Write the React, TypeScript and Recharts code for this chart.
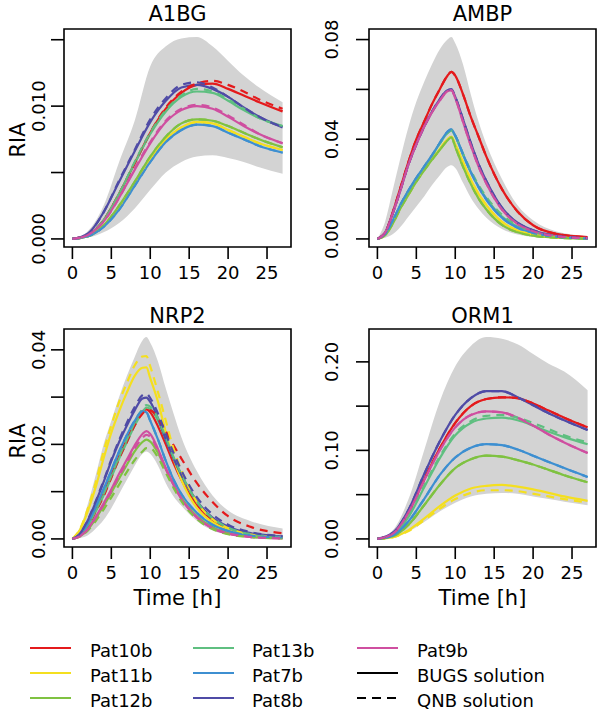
import { Area, ComposedChart, Line, ReferenceArea, XAxis, YAxis } from "recharts";

const FONT = "'DejaVu Sans', Verdana, sans-serif";

const patients = ["Pat10b", "Pat11b", "Pat12b", "Pat13b", "Pat7b", "Pat8b", "Pat9b"];
const patientColors = ["#E41A1C", "#F4DF1F", "#7FC241", "#5FBF80", "#3D8FD1", "#4F4BA6", "#CF4FA0"];
const hourTicks = [0, 5, 10, 15, 20, 25];

// ---- A1BG ----
const a1bgHours = [0, 2, 4, 6, 8, 10, 12, 14, 16, 18, 20, 22, 24, 27];
const a1bgLow = [0, 0.0001, 0.0005, 0.0012, 0.0023, 0.0037, 0.005, 0.0058, 0.0062, 0.0063, 0.0061, 0.0058, 0.0054, 0.0049];
const a1bgHigh = [0, 0.0006, 0.0025, 0.0058, 0.0089, 0.013, 0.0145, 0.0151, 0.0152, 0.0145, 0.0134, 0.0123, 0.0114, 0.0103];
const a1bgBugs: Record<string, number[]> = {
  Pat10b: [0, 0.0003, 0.0014, 0.0034, 0.0057, 0.008, 0.0098, 0.011, 0.0116, 0.0117, 0.0113, 0.0108, 0.0103, 0.0096],
  Pat11b: [0, 0.0002, 0.001, 0.0024, 0.0042, 0.006, 0.0075, 0.0084, 0.0088, 0.0087, 0.0082, 0.0077, 0.0072, 0.0067],
  Pat12b: [0, 0.0002, 0.001, 0.0025, 0.0043, 0.0062, 0.0077, 0.0087, 0.009, 0.0089, 0.0085, 0.008, 0.0075, 0.0069],
  Pat13b: [0, 0.0003, 0.0014, 0.0034, 0.0057, 0.0079, 0.0096, 0.0107, 0.0111, 0.011, 0.0104, 0.0097, 0.0091, 0.0085],
  Pat7b: [0, 0.0002, 0.0009, 0.0022, 0.004, 0.0058, 0.0073, 0.0082, 0.0086, 0.0085, 0.008, 0.0075, 0.007, 0.0065],
  Pat8b: [0, 0.0004, 0.002, 0.0043, 0.0066, 0.0088, 0.0104, 0.0114, 0.0116, 0.0113, 0.0107, 0.0099, 0.0092, 0.0084],
  Pat9b: [0, 0.0003, 0.0013, 0.0031, 0.0052, 0.0072, 0.0088, 0.0097, 0.01, 0.0098, 0.0092, 0.0085, 0.0079, 0.0072],
};
const a1bgQnb: Record<string, number[]> = {
  ...a1bgBugs,
  Pat10b: [0, 0.0003, 0.0014, 0.0034, 0.0057, 0.008, 0.0099, 0.0111, 0.0117, 0.0119, 0.0116, 0.0111, 0.0105, 0.0098],
  Pat13b: [0, 0.0003, 0.0014, 0.0034, 0.0058, 0.008, 0.0097, 0.0108, 0.0113, 0.0111, 0.0105, 0.0098, 0.0091, 0.0085],
  Pat8b: [0, 0.0004, 0.002, 0.0044, 0.0067, 0.009, 0.0106, 0.0116, 0.0118, 0.0114, 0.0107, 0.0099, 0.0092, 0.0084],
  Pat9b: [0, 0.0003, 0.0013, 0.0031, 0.0053, 0.0073, 0.0089, 0.0098, 0.0101, 0.0099, 0.0093, 0.0086, 0.0079, 0.0072],
};

// ---- AMBP ----
const ambpHours = [0, 1, 2, 3, 4, 5, 6, 7, 8, 9, 9.5, 10, 11, 12, 13, 14, 16, 18, 20, 23, 27];
const ambpLow = [0, 0.0005, 0.002, 0.005, 0.009, 0.013, 0.017, 0.0215, 0.0255, 0.029, 0.0296, 0.0285, 0.0225, 0.0165, 0.012, 0.0085, 0.004, 0.0018, 0.0008, 0.0003, 0.0001];
const ambpHigh = [0, 0.007, 0.02, 0.033, 0.045, 0.055, 0.063, 0.07, 0.076, 0.08, 0.081, 0.0785, 0.07, 0.058, 0.047, 0.038, 0.024, 0.0135, 0.0075, 0.003, 0.0012];
const ambpBugs: Record<string, number[]> = {
  Pat10b: [0, 0.0025, 0.011, 0.021, 0.031, 0.04, 0.047, 0.054, 0.06, 0.0655, 0.067, 0.0655, 0.058, 0.049, 0.041, 0.033, 0.02, 0.011, 0.0055, 0.002, 0.0007],
  Pat11b: [0, 0.0016, 0.0066, 0.0128, 0.018, 0.0233, 0.0278, 0.032, 0.036, 0.04, 0.041, 0.038, 0.0308, 0.0238, 0.018, 0.0135, 0.0068, 0.0034, 0.0017, 0.0006, 0.0002],
  Pat12b: [0, 0.0015, 0.0063, 0.0125, 0.0178, 0.023, 0.0275, 0.0317, 0.0357, 0.0395, 0.0408, 0.037, 0.029, 0.022, 0.0162, 0.0118, 0.0056, 0.0027, 0.0013, 0.0005, 0.0001],
  Pat13b: [0, 0.002, 0.0075, 0.0138, 0.0193, 0.0243, 0.0288, 0.0333, 0.0382, 0.0425, 0.0436, 0.0412, 0.0338, 0.0268, 0.021, 0.0162, 0.009, 0.0049, 0.0026, 0.001, 0.0002],
  Pat7b: [0, 0.002, 0.0075, 0.014, 0.0195, 0.0245, 0.029, 0.0335, 0.0385, 0.043, 0.044, 0.0415, 0.034, 0.0268, 0.0208, 0.0158, 0.0085, 0.0045, 0.0024, 0.0009, 0.0002],
  Pat8b: [0, 0.0025, 0.0105, 0.02, 0.03, 0.038, 0.045, 0.051, 0.056, 0.0597, 0.06, 0.057, 0.048, 0.0385, 0.03, 0.0232, 0.0125, 0.0065, 0.0035, 0.0012, 0.0003],
  Pat9b: [0, 0.0025, 0.0105, 0.02, 0.03, 0.038, 0.045, 0.0508, 0.0555, 0.0593, 0.0597, 0.0565, 0.047, 0.0375, 0.029, 0.0222, 0.0118, 0.006, 0.0031, 0.0011, 0.0003],
};
const ambpQnb: Record<string, number[]> = {
  ...ambpBugs,
  Pat13b: [0, 0.002, 0.0075, 0.0138, 0.0193, 0.0243, 0.0288, 0.0333, 0.0382, 0.0425, 0.0436, 0.0414, 0.0342, 0.0274, 0.0216, 0.0168, 0.0097, 0.0054, 0.0029, 0.0011, 0.0002],
};

// ---- NRP2 ----
const nrp2Hours = [0, 1, 2, 3, 4, 5, 6, 7, 8, 9, 9.5, 10, 11, 12, 13, 14, 16, 18, 20, 23, 27];
const nrp2Low = [0, 0.0002, 0.0008, 0.0022, 0.004, 0.0065, 0.0095, 0.0125, 0.0155, 0.018, 0.0185, 0.018, 0.0155, 0.0118, 0.009, 0.007, 0.0038, 0.0018, 0.0009, 0.0003, 0.0001];
const nrp2High = [0, 0.0025, 0.0075, 0.0135, 0.02, 0.025, 0.03, 0.0345, 0.0385, 0.042, 0.0427, 0.0415, 0.0375, 0.0318, 0.0265, 0.0215, 0.0143, 0.0092, 0.006, 0.0037, 0.0022];
const nrp2Bugs: Record<string, number[]> = {
  Pat10b: [0, 0.0008, 0.003, 0.006, 0.0095, 0.0135, 0.0175, 0.021, 0.0245, 0.027, 0.0274, 0.0268, 0.0238, 0.02, 0.016, 0.0125, 0.0072, 0.004, 0.0023, 0.001, 0.0004],
  Pat11b: [0, 0.002, 0.006, 0.011, 0.017, 0.0225, 0.027, 0.031, 0.0345, 0.0362, 0.0363, 0.034, 0.029, 0.0225, 0.017, 0.0125, 0.0065, 0.0035, 0.0019, 0.0008, 0.0003],
  Pat12b: [0, 0.0006, 0.002, 0.0043, 0.007, 0.0098, 0.0128, 0.0157, 0.0185, 0.0205, 0.021, 0.0206, 0.0182, 0.0148, 0.0115, 0.0087, 0.0048, 0.0025, 0.0013, 0.0005, 0.0002],
  Pat13b: [0, 0.0008, 0.0028, 0.0058, 0.0092, 0.013, 0.017, 0.0205, 0.024, 0.0268, 0.0278, 0.0275, 0.025, 0.021, 0.017, 0.0135, 0.0078, 0.0043, 0.0024, 0.001, 0.0004],
  Pat7b: [0, 0.001, 0.0033, 0.0068, 0.0105, 0.0145, 0.0185, 0.022, 0.025, 0.027, 0.0268, 0.025, 0.021, 0.0165, 0.0125, 0.0095, 0.0055, 0.003, 0.0017, 0.0007, 0.0003],
  Pat8b: [0, 0.0012, 0.004, 0.0078, 0.012, 0.0165, 0.0205, 0.024, 0.0272, 0.0297, 0.0299, 0.029, 0.0255, 0.021, 0.017, 0.0135, 0.008, 0.0045, 0.0026, 0.0012, 0.0005],
  Pat9b: [0, 0.0006, 0.0022, 0.0047, 0.0075, 0.0105, 0.0138, 0.0168, 0.0198, 0.0222, 0.0228, 0.0222, 0.019, 0.015, 0.0115, 0.0085, 0.0045, 0.0022, 0.0011, 0.0004, 0.0001],
};
const nrp2Qnb: Record<string, number[]> = {
  ...nrp2Bugs,
  Pat10b: [0, 0.0008, 0.0028, 0.0058, 0.009, 0.013, 0.017, 0.0205, 0.024, 0.0265, 0.0272, 0.0272, 0.0255, 0.0228, 0.0198, 0.017, 0.0118, 0.0078, 0.0048, 0.0025, 0.0012],
  Pat11b: [0, 0.0022, 0.0065, 0.012, 0.0185, 0.024, 0.029, 0.033, 0.0367, 0.0386, 0.0387, 0.0365, 0.031, 0.025, 0.019, 0.0145, 0.0078, 0.0042, 0.0023, 0.0009, 0.0003],
  Pat12b: [0, 0.0005, 0.0018, 0.0038, 0.0062, 0.0088, 0.0115, 0.0142, 0.0167, 0.0185, 0.0192, 0.0192, 0.0172, 0.014, 0.0108, 0.008, 0.0042, 0.0021, 0.001, 0.0004, 0.0001],
  Pat13b: [0, 0.0008, 0.0029, 0.006, 0.0095, 0.0134, 0.0174, 0.021, 0.0246, 0.0275, 0.0283, 0.028, 0.0255, 0.0214, 0.0173, 0.0137, 0.0079, 0.0044, 0.0024, 0.001, 0.0004],
  Pat8b: [0, 0.0012, 0.0041, 0.008, 0.0123, 0.0168, 0.0209, 0.0246, 0.0279, 0.0304, 0.0307, 0.0298, 0.0265, 0.0222, 0.0182, 0.0145, 0.0088, 0.0052, 0.003, 0.0014, 0.0006],
  Pat9b: [0, 0.0006, 0.0021, 0.0045, 0.0072, 0.0101, 0.0133, 0.0162, 0.0191, 0.0214, 0.022, 0.0216, 0.0186, 0.0148, 0.0114, 0.0085, 0.0046, 0.0023, 0.0012, 0.0004, 0.0001],
};

// ---- ORM1 ----
const orm1Hours = [0, 2, 4, 6, 8, 10, 12, 14, 16, 18, 20, 22, 24, 27];
const orm1Low = [0, 0.0015, 0.008, 0.019, 0.031, 0.041, 0.048, 0.051, 0.052, 0.051, 0.048, 0.045, 0.042, 0.038];
const orm1High = [0, 0.01, 0.045, 0.1, 0.155, 0.195, 0.218, 0.228, 0.226, 0.22, 0.209, 0.198, 0.189, 0.168];
const orm1Bugs: Record<string, number[]> = {
  Pat10b: [0, 0.006, 0.03, 0.067, 0.102, 0.131, 0.15, 0.158, 0.16, 0.159, 0.153, 0.145, 0.137, 0.126],
  Pat11b: [0, 0.002, 0.01, 0.023, 0.037, 0.049, 0.057, 0.06, 0.061, 0.059, 0.056, 0.052, 0.048, 0.043],
  Pat12b: [0, 0.003, 0.016, 0.038, 0.061, 0.08, 0.09, 0.094, 0.093, 0.089, 0.084, 0.078, 0.072, 0.064],
  Pat13b: [0, 0.005, 0.025, 0.058, 0.091, 0.117, 0.131, 0.136, 0.137, 0.134, 0.128, 0.121, 0.115, 0.107],
  Pat7b: [0, 0.004, 0.02, 0.045, 0.072, 0.092, 0.103, 0.107, 0.106, 0.101, 0.094, 0.087, 0.08, 0.07],
  Pat8b: [0, 0.007, 0.033, 0.073, 0.11, 0.14, 0.159, 0.167, 0.167, 0.16, 0.151, 0.142, 0.134, 0.123],
  Pat9b: [0, 0.006, 0.03, 0.066, 0.1, 0.126, 0.14, 0.144, 0.143, 0.137, 0.128, 0.118, 0.109, 0.097],
};
const orm1Qnb: Record<string, number[]> = {
  ...orm1Bugs,
  Pat11b: [0, 0.002, 0.009, 0.021, 0.034, 0.045, 0.052, 0.055, 0.055, 0.054, 0.051, 0.048, 0.045, 0.041],
  Pat13b: [0, 0.005, 0.026, 0.06, 0.093, 0.119, 0.133, 0.139, 0.14, 0.137, 0.131, 0.124, 0.117, 0.109],
};

const X_MIN = -1.08;
const X_MAX = 28.08;
const BOX_W = 227;
const BOX_H = 218;
const BOX_TOP = 29;

interface PanelProps {
  left: number;
  top: number;
  boxLeft: number;
  labelGap: number;
  hours: number[];
  low: number[];
  high: number[];
  bugs: Record<string, number[]>;
  qnb: Record<string, number[]>;
  yTicks: number[];
  yLabeled: number[];
  digits: number;
}

function HourTick(props: any) {
  const { x, y, payload } = props;
  return (
    <text x={x} y={y} textAnchor="middle" fontFamily={FONT} fontSize={18} fill="#000">
      {payload.value}
    </text>
  );
}

function Panel({ left, top, boxLeft, labelGap, hours, low, high, bugs, qnb, yTicks, yLabeled, digits }: PanelProps) {
  const rows = hours.map((t, i) => {
    const row: Record<string, any> = { t, band: [low[i], high[i]] };
    patients.forEach((p) => {
      row[p] = bugs[p][i];
      row[p + "_qnb"] = qnb[p][i];
    });
    return row;
  });
  // R-style 4% padding around the data range
  const yMax = Math.max(...high);
  const yLo = -0.04 * yMax;
  const yHi = 1.04 * yMax;

  const ValueTick = (props: any) => {
    const { x, y, payload } = props;
    if (!yLabeled.some((v) => Math.abs(v - payload.value) < 1e-9)) return <g />;
    return (
      <text
        x={x}
        y={y}
        transform={`rotate(-90, ${x}, ${y})`}
        textAnchor="middle"
        fontFamily={FONT}
        fontSize={18}
        fill="#000"
      >
        {payload.value.toFixed(digits)}
      </text>
    );
  };

  const tickStyle = { stroke: "#000", strokeWidth: 1.6 };

  return (
    <div style={{ position: "absolute", left, top }}>
      <ComposedChart
        width={300}
        height={300}
        data={rows}
        margin={{ top: BOX_TOP, right: 300 - boxLeft - BOX_W, bottom: 300 - BOX_TOP - BOX_H - 30, left: boxLeft - 40 }}
      >
        <XAxis
          dataKey="t"
          type="number"
          domain={[X_MIN, X_MAX]}
          allowDataOverflow
          ticks={hourTicks}
          interval={0}
          axisLine={false}
          tickLine={tickStyle}
          tickSize={12}
          tickMargin={20}
          height={30}
          tick={HourTick}
        />
        <YAxis
          type="number"
          domain={[yLo, yHi]}
          allowDataOverflow
          ticks={yTicks}
          interval={0}
          axisLine={false}
          tickLine={tickStyle}
          tickSize={13}
          tickMargin={labelGap}
          width={40}
          tick={ValueTick}
        />
        <Area
          dataKey="band"
          type="monotone"
          stroke="none"
          fill="#D3D3D3"
          fillOpacity={1}
          isAnimationActive={false}
        />
        {patients.map((p, i) => (
          <Line
            key={p}
            dataKey={p}
            type="monotone"
            stroke={patientColors[i]}
            strokeWidth={2.2}
            dot={false}
            isAnimationActive={false}
          />
        ))}
        {patients.map((p, i) => (
          <Line
            key={p + "_qnb"}
            dataKey={p + "_qnb"}
            type="monotone"
            stroke={patientColors[i]}
            strokeWidth={2.2}
            strokeDasharray="8 6"
            dot={false}
            isAnimationActive={false}
          />
        ))}
        <ReferenceArea
          x1={X_MIN}
          x2={X_MAX}
          y1={yLo}
          y2={yHi}
          fill="none"
          stroke="#000"
          strokeWidth={1.6}
          ifOverflow="visible"
        />
      </ComposedChart>
    </div>
  );
}

const legendItems = [
  ...patients.map((p, i) => ({ label: p, color: patientColors[i], dash: undefined as string | undefined })),
  { label: "BUGS solution", color: "#000", dash: undefined },
  { label: "QNB solution", color: "#000", dash: "9 6" },
];
const legendLineX = [30, 193, 357];
const legendTextX = [90, 252, 417];
const legendLineY = [648, 673, 698];
const legendTextY = [657, 682, 707];

export default function App() {
  const textProps = { fontFamily: FONT, fill: "#000" };
  return (
    <div style={{ position: "absolute", left: 0, top: 0, width: 600, height: 713, background: "#fff" }}>
      <Panel left={0} top={0} boxLeft={64} labelGap={6} hours={a1bgHours} low={a1bgLow} high={a1bgHigh}
        bugs={a1bgBugs} qnb={a1bgQnb} yTicks={[0, 0.005, 0.01, 0.015]} yLabeled={[0, 0.01]} digits={3} />
      <Panel left={300} top={0} boxLeft={69} labelGap={18} hours={ambpHours} low={ambpLow} high={ambpHigh}
        bugs={ambpBugs} qnb={ambpQnb} yTicks={[0, 0.02, 0.04, 0.06, 0.08]} yLabeled={[0, 0.04, 0.08]} digits={2} />
      <Panel left={0} top={300} boxLeft={64} labelGap={6} hours={nrp2Hours} low={nrp2Low} high={nrp2High}
        bugs={nrp2Bugs} qnb={nrp2Qnb} yTicks={[0, 0.01, 0.02, 0.03, 0.04]} yLabeled={[0, 0.02, 0.04]} digits={2} />
      <Panel left={300} top={300} boxLeft={69} labelGap={18} hours={orm1Hours} low={orm1Low} high={orm1High}
        bugs={orm1Bugs} qnb={orm1Qnb} yTicks={[0, 0.05, 0.1, 0.15, 0.2]} yLabeled={[0, 0.1, 0.2]} digits={2} />

      <svg width={600} height={713} style={{ position: "absolute", left: 0, top: 0, pointerEvents: "none" }}>
        <text x={177.5} y={20.7} textAnchor="middle" fontSize={21} {...textProps}>A1BG</text>
        <text x={482.5} y={20.7} textAnchor="middle" fontSize={21} {...textProps}>AMBP</text>
        <text x={177.5} y={322.5} textAnchor="middle" fontSize={21} {...textProps}>NRP2</text>
        <text x={482.5} y={322.5} textAnchor="middle" fontSize={21} {...textProps}>ORM1</text>

        <text x={25} y={140} transform="rotate(-90, 25, 140)" textAnchor="middle" fontSize={21} {...textProps}>RIA</text>
        <text x={25} y={441} transform="rotate(-90, 25, 441)" textAnchor="middle" fontSize={21} {...textProps}>RIA</text>

        <text x={177.5} y={605} textAnchor="middle" fontSize={21} {...textProps}>Time [h]</text>
        <text x={482.5} y={605} textAnchor="middle" fontSize={21} {...textProps}>Time [h]</text>

        {legendItems.map((item, i) => {
          const col = Math.floor(i / 3);
          const row = i % 3;
          return (
            <g key={item.label}>
              <line
                x1={legendLineX[col]}
                x2={legendLineX[col] + 41}
                y1={legendLineY[row]}
                y2={legendLineY[row]}
                stroke={item.color}
                strokeWidth={2}
                strokeDasharray={item.dash}
              />
              <text x={legendTextX[col]} y={legendTextY[row]} fontSize={18} {...textProps}>
                {item.label}
              </text>
            </g>
          );
        })}
      </svg>
    </div>
  );
}
